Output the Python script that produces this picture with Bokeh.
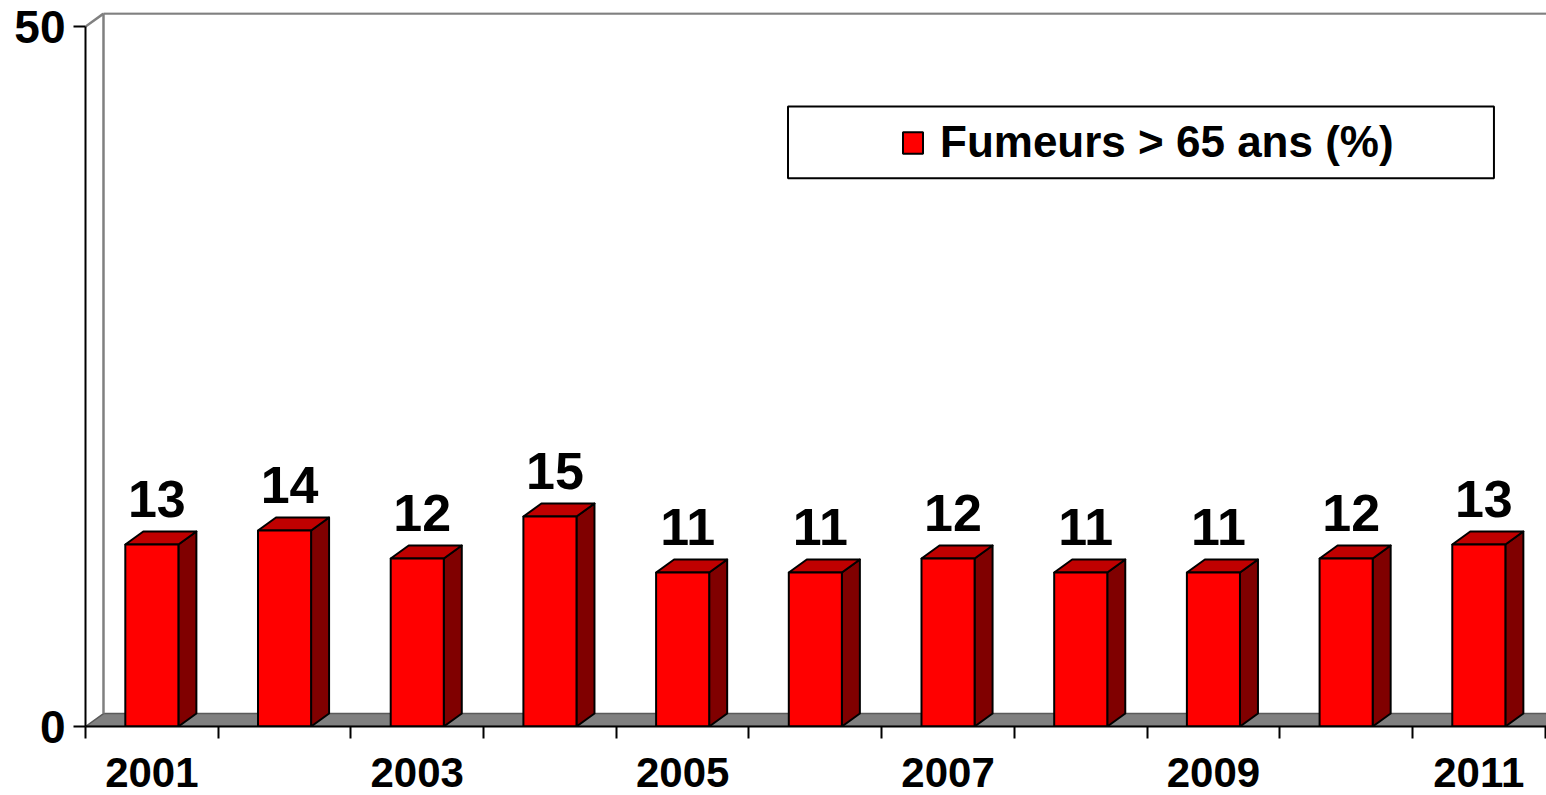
from bokeh.plotting import figure
from bokeh.models import Range1d, FixedTicker, Legend, LegendItem, BoxAnnotation
from bokeh.core.properties import value
from bokeh.embed import file_html
from bokeh.resources import INLINE

# ---- data ----
years = [2001, 2002, 2003, 2004, 2005, 2006, 2007, 2008, 2009, 2010, 2011]
smokers_pct = [13, 14, 12, 15, 11, 11, 12, 11, 11, 12, 13]
year_labels = ["2001", "2003", "2005", "2007", "2009", "2011"]
y_tick_values = [0, 50]
series_name = "Fumeurs > 65 ans (%)"

# ---- style / geometry ----
FONT = "Liberation Sans"
W, H = 1546, 795
X_END = 11.01
Y_MAX = 50
DX = 0.1356      # depth offset (category units)
DY = 0.927       # depth offset (value units)
Y_END = Y_MAX + DY + 0.08
HALF = 0.2       # half bar width
RED, SIDE, TOP = "#FF0000", "#800000", "#C00000"
GRAY = "#808080"

n = len(years)
xc = [i + 0.5 for i in range(n)]
boundaries = list(range(n + 1))

p = figure(width=W, height=H, x_range=Range1d(0, X_END), y_range=Range1d(0, Y_END),
           output_backend="svg", toolbar_location=None,
           min_border_left=85, min_border_right=0, min_border_top=12, min_border_bottom=69)
p.grid.visible = False
p.outline_line_color = None
p.background_fill_color = "white"
p.border_fill_color = "white"

# floor
p.patch([0, X_END + 1, X_END + 1 + DX, DX], [0, 0, DY, DY],
        fill_color=GRAY, line_color="#5a5a5a", line_width=1.5)
# walls
p.line([DX, DX], [DY, Y_MAX + DY], line_color=GRAY, line_width=2.5)
p.line([DX, X_END + 1], [Y_MAX + DY, Y_MAX + DY], line_color=GRAY, line_width=2.5)
p.line([0, DX], [Y_MAX, Y_MAX + DY], line_color=GRAY, line_width=2.5)

# bars
lefts = [x - HALF for x in xc]
rights = [x + HALF for x in xc]
side_xs = [[r, r + DX, r + DX, r] for r in rights]
side_ys = [[0, DY, v + DY, v] for v in smokers_pct]
top_xs = [[l, r, r + DX, l + DX] for l, r in zip(lefts, rights)]
top_ys = [[v, v, v + DY, v + DY] for v in smokers_pct]
p.patches(side_xs, side_ys, fill_color=SIDE, line_color="black", line_width=2, line_join="round")
p.patches(top_xs, top_ys, fill_color=TOP, line_color="black", line_width=2, line_join="round")
front = p.quad(left=lefts, right=rights, bottom=0, top=smokers_pct,
               fill_color=RED, line_color="black", line_width=2)

# value labels
p.text(x=xc, y=[v + DY for v in smokers_pct], text=[str(v) for v in smokers_pct],
       text_font=value(FONT), text_font_style="bold", text_font_size="52px",
       text_align="center", text_baseline="alphabetic", text_color="black",
       x_offset=5, y_offset=-33)

# x axis
label_pos = [xc[years.index(int(l))] for l in year_labels]
xa = p.xaxis[0]
xa.ticker = FixedTicker(ticks=label_pos, minor_ticks=boundaries)
xa.major_label_overrides = {pos: lab for pos, lab in zip(label_pos, year_labels)}
xa.major_tick_line_color = None
xa.major_tick_out = 12
xa.major_tick_in = 0
xa.minor_tick_out = 12
xa.minor_tick_in = 0
xa.minor_tick_line_color = "black"
xa.minor_tick_line_width = 2
xa.axis_line_color = "black"
xa.axis_line_width = 2
xa.major_label_standoff = 19
xa.major_label_text_font = FONT
xa.major_label_text_font_style = "bold"
xa.major_label_text_font_size = "42px"
xa.major_label_text_color = "black"

# y axis
ya = p.yaxis[0]
ya.ticker = FixedTicker(ticks=y_tick_values)
ya.bounds = (0, Y_MAX)
ya.major_tick_out = 12
ya.major_tick_in = 0
ya.major_tick_line_color = "black"
ya.major_tick_line_width = 2
ya.minor_tick_line_color = None
ya.axis_line_color = "black"
ya.axis_line_width = 2
ya.major_label_standoff = 8
ya.major_label_text_font = FONT
ya.major_label_text_font_style = "bold"
ya.major_label_text_font_size = "46px"
ya.major_label_text_color = "black"

# legend frame + legend
box = BoxAnnotation(left=5.294, right=10.614, bottom=39.16, top=44.29,
                    fill_color="white", fill_alpha=1, line_color="black",
                    line_alpha=1, line_width=2)
p.add_layout(box)
legend = Legend(items=[LegendItem(label=series_name, renderers=[front])],
                location=(815, 559), glyph_width=25, glyph_height=27,
                label_standoff=15, label_text_font=FONT, label_text_font_style="bold",
                label_text_font_size="44px", label_text_color="black",
                border_line_color=None,
                background_fill_alpha=0, padding=0, margin=0, spacing=0)
p.add_layout(legend)

open("out.html", "w").write(file_html(p, INLINE))
